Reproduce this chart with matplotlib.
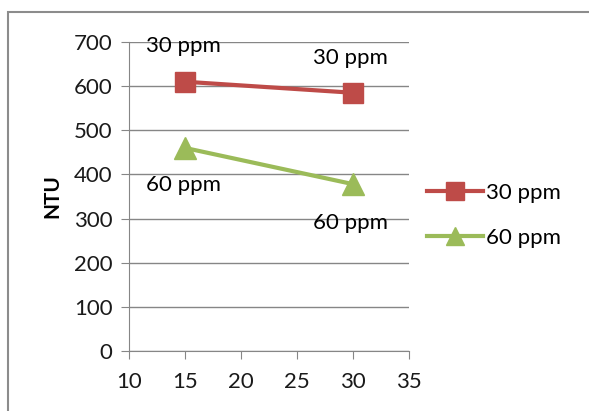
import matplotlib
matplotlib.use("Agg")
import matplotlib.pyplot as plt
from matplotlib.patches import Rectangle

# data
dose = [15, 30]
ntu_30ppm = [610, 585]
ntu_60ppm = [460, 378]
series_names = ["30 ppm", "60 ppm"]

plt.rcParams['font.family'] = ['Lato', 'DejaVu Sans']

red = '#BE4B48'
green = '#9BBB59'
grid_c = '#868686'
fs = 16

fig = plt.figure(figsize=(5.89, 4.11), dpi=100)
ax = fig.add_axes([129/589, 60/411, 280/589, 309/411])

l1, = ax.plot(dose, ntu_30ppm, color=red, lw=3, marker='s', ms=15, label=series_names[0])
l2, = ax.plot(dose, ntu_60ppm, color=green, lw=3, marker='^', ms=16, label=series_names[1])

# point labels
ax.annotate(series_names[0], (dose[0], ntu_30ppm[0]), xytext=(-1, 26), textcoords='offset points',
            ha='center', va='center', fontsize=fs)
ax.annotate(series_names[0], (dose[1], ntu_30ppm[1]), xytext=(-2, 25), textcoords='offset points',
            ha='center', va='center', fontsize=fs)
ax.annotate(series_names[1], (dose[0], ntu_60ppm[0]), xytext=(-1, -27), textcoords='offset points',
            ha='center', va='center', fontsize=fs)
ax.annotate(series_names[1], (dose[1], ntu_60ppm[1]), xytext=(-2, -28), textcoords='offset points',
            ha='center', va='center', fontsize=fs)

ax.set_xlim(10, 35)
ax.set_ylim(0, 700)
ax.set_xticks(range(10, 36, 5))
ax.set_yticks(range(0, 701, 100))
ax.yaxis.grid(True, color=grid_c, lw=1)
ax.set_axisbelow(True)
for s in ['top', 'right']:
    ax.spines[s].set_visible(False)
for s in ['left', 'bottom']:
    ax.spines[s].set_color(grid_c)
ax.tick_params(axis='both', colors=grid_c, labelcolor='#1a1a1a', labelsize=fs, length=6)
ax.tick_params(axis='x', pad=9)
ax.tick_params(axis='y', pad=6)
ax.set_ylabel("NTU", fontweight='bold', fontsize=15, labelpad=8)

fig.legend(handles=[l1, l2], loc='center left', bbox_to_anchor=(427/589, 1 - 215.5/411),
           frameon=False, fontsize=fs, handlelength=2.5, handletextpad=0.15, labelspacing=1.12,
           borderpad=0, borderaxespad=0, markerscale=0.85)

# outer chart border
fig.patches.append(Rectangle((8/589, -0.2), 1.1, 1.2 - 12/411, transform=fig.transFigure,
                             fill=False, edgecolor='#8C8C8C', lw=1.5))

fig.savefig("out.png", dpi=100)
